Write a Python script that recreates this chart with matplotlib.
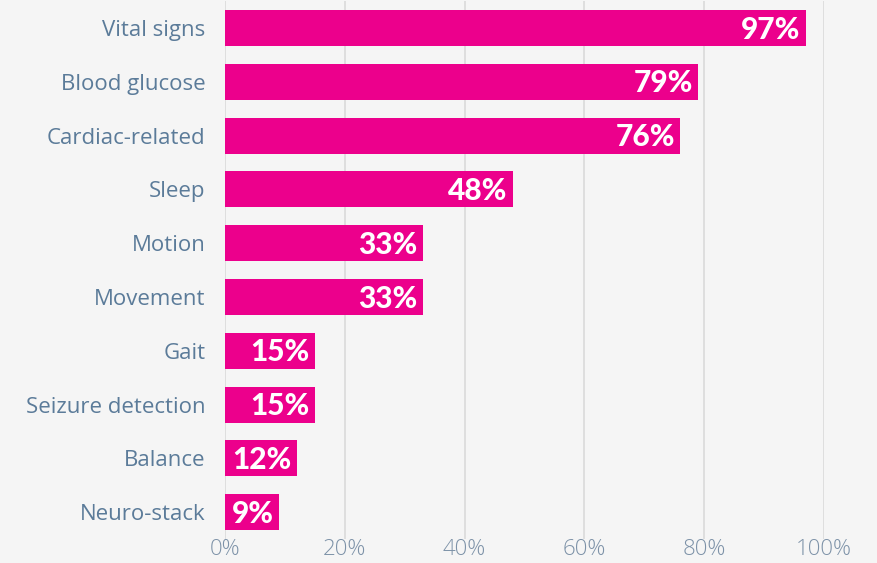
import matplotlib.pyplot as plt
from matplotlib.ticker import FuncFormatter

categories = ["Vital signs", "Blood glucose", "Cardiac-related", "Sleep", "Motion",
              "Movement", "Gait", "Seizure detection", "Balance", "Neuro-stack"]
values = [97, 79, 76, 48, 33, 33, 15, 15, 12, 9]

bg = "#f5f5f5"
bar_color = "#ec008c"

fig = plt.figure(figsize=(8.78, 5.63), dpi=100, facecolor=bg)
ax = fig.add_axes([0.2563, 0.0426, 0.6822, 0.9554], facecolor=bg)

ypos = list(range(len(categories)))
ax.barh(ypos, values, height=0.67, color=bar_color, zorder=3)

for y, v in zip(ypos, values):
    ax.text(v - 0.9, y + 0.03, f"{v}%", ha="right", va="center", color="white",
            fontsize=21.5, fontweight="black", family="Lato", zorder=4)

ax.set_xlim(0, 100)
ax.set_ylim(len(categories) - 0.5, -0.5)
ax.set_yticks(ypos)
ax.set_yticklabels(categories, fontsize=16, color="#5b7b99", family="Open Sans")
ax.set_xticks([0, 20, 40, 60, 80, 100])
ax.xaxis.set_major_formatter(FuncFormatter(lambda x, _: f"{x:.0f}%"))
for lbl in ax.get_xticklabels():
    lbl.set_fontsize(16)
    lbl.set_color("#7d92a8")
    lbl.set_family("Open Sans")
    lbl.set_fontweight("light")

ax.tick_params(axis="both", length=0)
ax.tick_params(axis="y", pad=14)
ax.tick_params(axis="x", pad=0)
ax.grid(axis="x", color="#dcdcdc", linewidth=1.3, zorder=0)
for s in ax.spines.values():
    s.set_visible(False)

fig.savefig("out.png", dpi=100, facecolor=bg)
